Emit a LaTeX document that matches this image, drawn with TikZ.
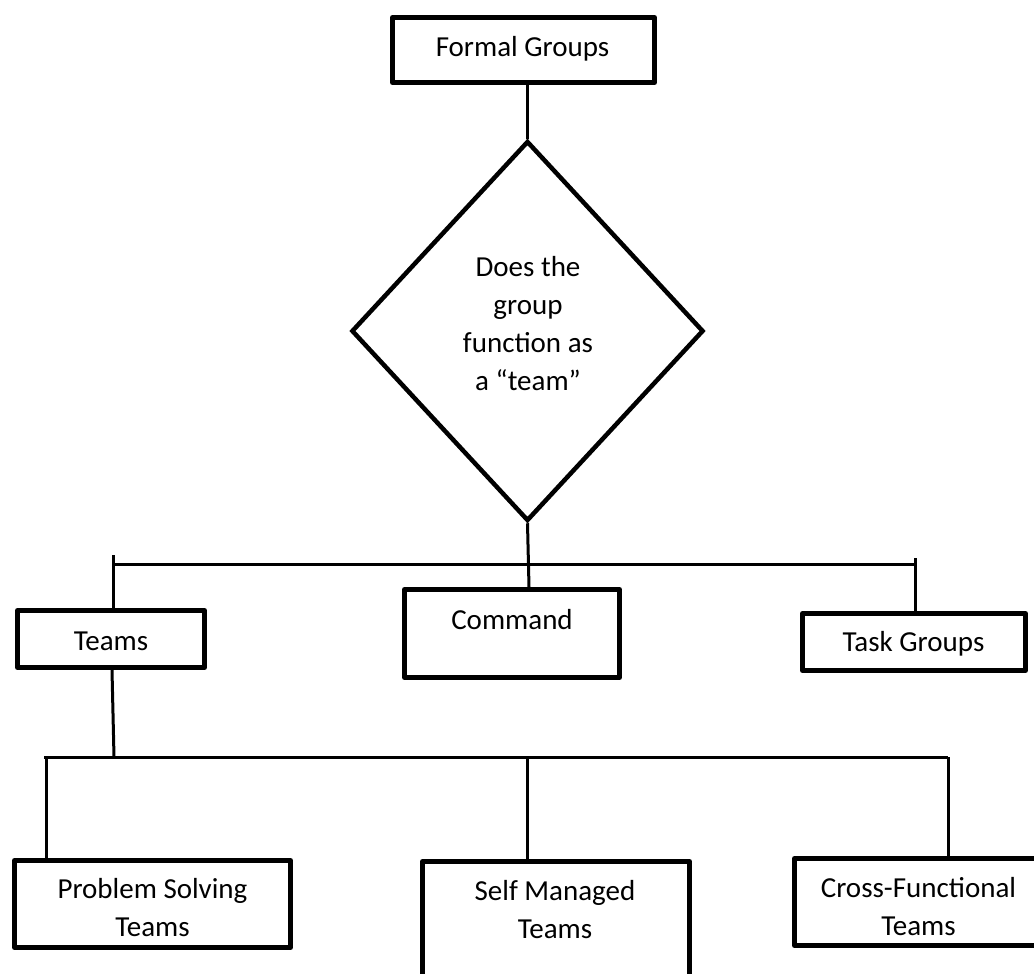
\documentclass[tikz,border=0pt]{standalone}
\usepackage{fontspec}
\setmainfont{Carlito}
\usetikzlibrary{shapes.geometric,calc}
\begin{document}
\begin{tikzpicture}[x=1pt,y=-1pt,
  box/.style={draw, line width=5pt, rectangle, inner sep=0pt, line join=round},
  decbox/.style={draw, diamond, line width=4.5pt, inner sep=0pt, minimum width=352pt, minimum height=380pt},
  lbl/.style={align=center, font=\fontsize{29}{38}\selectfont, inner sep=0pt},
  conn/.style={line width=3pt}]
\useasboundingbox[fill=white] (0,0) rectangle (1034,974);

% boxes
\node[box, minimum width=262pt, minimum height=65pt] (formal) at (523.5,50) {};
\node[decbox] (dec) at (527.5,331) {};
\node[box, minimum width=187pt, minimum height=57pt] (teams) at (111,639) {};
\node[box, minimum width=215pt, minimum height=88pt] (command) at (512,633.5) {};
\node[box, minimum width=223pt, minimum height=57pt] (task) at (914,642) {};
\node[box, minimum width=276pt, minimum height=87pt] (problem) at (152.5,904) {};
\node[box, minimum width=267pt, minimum height=140pt] (self) at (556,931.5) {};
\node[box, minimum width=248pt, minimum height=87pt] (cross) at (918.5,902) {};

% texts
\node[lbl, anchor=base] (formal-t) at (522.5,57) {Formal Groups};
\node[lbl] (dec-t) at (528,324) {Does the\\group\\function as\\a “team”};
\node[lbl, anchor=base] (teams-t) at (111,650) {Teams};
\node[lbl, anchor=base] (command-t) at (512,629) {Command};
\node[lbl, anchor=base] (task-t) at (913.5,651) {Task Groups};
\node[lbl] (problem-t) at (152.5,908) {Problem Solving\\Teams};
\node[lbl] (self-t) at (555,909.5) {Self Managed\\Teams};
\node[lbl] (cross-t) at (918.5,906.5) {Cross-Functional\\Teams};

% coordinates of the buses
\coordinate (b1L) at (113,564);
\coordinate (b1R) at (915,564);
\coordinate (t1L) at (113,555);
\coordinate (t1R) at (915,558);
\coordinate (b2L) at (44,757);
\coordinate (b2R) at (948,757);
\coordinate (t2L) at (46,757);
\coordinate (t2M) at (527,757);
\coordinate (t2R) at (948,757);
\coordinate (teamsdown) at (114,757);

% connectors
\draw[conn] (dec.north |- formal.south) -- (dec.north);
\draw[conn] (dec.south) -- ([xshift=17pt]command.north);
\draw[conn] (b1L) -- (b1R);
\draw[conn] (t1L) -- (t1L |- teams.north);
\draw[conn] (t1R) -- (t1R |- task.north);
\draw[conn] ([xshift=1pt]teams.south) -- (teamsdown);
\draw[conn] (b2L) -- (b2R);
\draw[conn] (t2L) -- (t2L |- problem.north);
\draw[conn] (t2M) -- (t2M |- self.north);
\draw[conn] (t2R) -- (t2R |- cross.north);
\end{tikzpicture}
\end{document}
